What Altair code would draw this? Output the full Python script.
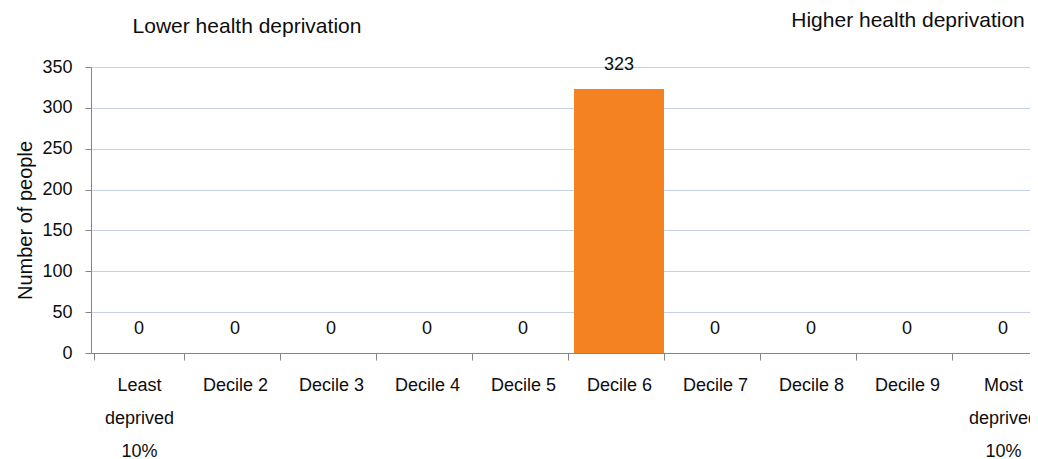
import altair as alt
import pandas as pd

categories = ["Least deprived 10%", "Decile 2", "Decile 3", "Decile 4", "Decile 5",
              "Decile 6", "Decile 7", "Decile 8", "Decile 9", "Most deprived 10%"]
values = [0, 0, 0, 0, 0, 323, 0, 0, 0, 0]
y_ticks = [0, 50, 100, 150, 200, 250, 300, 350]
notes = ["Lower health deprivation", "Higher health deprivation"]

df = pd.DataFrame({"decile": categories, "people": values})

FONT = "Liberation Sans"
TXT = "#0d0d0d"
AX = "#868686"

x_enc = alt.X(
    "decile:N", sort=categories, title=None,
    scale=alt.Scale(paddingInner=0.0625, paddingOuter=0.03125, range=[0, 960]),
    axis=alt.Axis(
        labelAngle=0, tickBand="extent", tickSize=7, tickColor=AX,
        domainColor=AX, labelFont=FONT, labelFontSize=18, labelColor=TXT,
        labelPadding=16, labelLineHeight=33, labelBaseline="top",
        labelExpr="indexof(datum.label, 'deprived') >= 0 ? split(datum.label, ' ') : datum.label",
        grid=False,
    ),
)

y_enc = alt.Y(
    "people:Q", title="Number of people",
    scale=alt.Scale(domain=[0, 350], nice=False),
    axis=alt.Axis(
        values=y_ticks, tickSize=6, tickColor=AX, domainColor=AX,
        gridColor="#c3d2e6", gridWidth=1, labelFont=FONT, labelFontSize=18,
        labelColor=TXT, labelPadding=13, titleFont=FONT, titleFontSize=20,
        titleFontWeight="normal", titleColor=TXT, titleX=-66, titleY=153,
        titleBaseline="middle", titleAngle=-90,
    ),
)

bars = alt.Chart(df).mark_bar(color="#F58220").encode(x=x_enc, y=y_enc)

labels = alt.Chart(df).mark_text(
    font=FONT, fontSize=18, color=TXT, baseline="middle", dy=-24
).encode(x=alt.X("decile:N", sort=categories), y=alt.Y("people:Q"), text="people:Q")

notes_df = pd.DataFrame({
    "txt": notes,
    "px": [156, 817],
    "py": [-34, -40],
})
note_marks = alt.Chart(notes_df).mark_text(
    font=FONT, fontSize=21, color=TXT, baseline="alphabetic"
).encode(
    x=alt.X("px:Q", scale=None), y=alt.Y("py:Q", scale=None), text="txt:N"
)

chart = alt.layer(bars, labels, note_marks).properties(
    width=939, height=286,
    autosize=alt.AutoSizeParams(type="none"),
    padding={"left": 83, "top": 59, "right": 0, "bottom": 105},
).configure_view(stroke=None).configure(background="white")

chart.save("out.html", embed_options={"renderer": "svg", "actions": False})
